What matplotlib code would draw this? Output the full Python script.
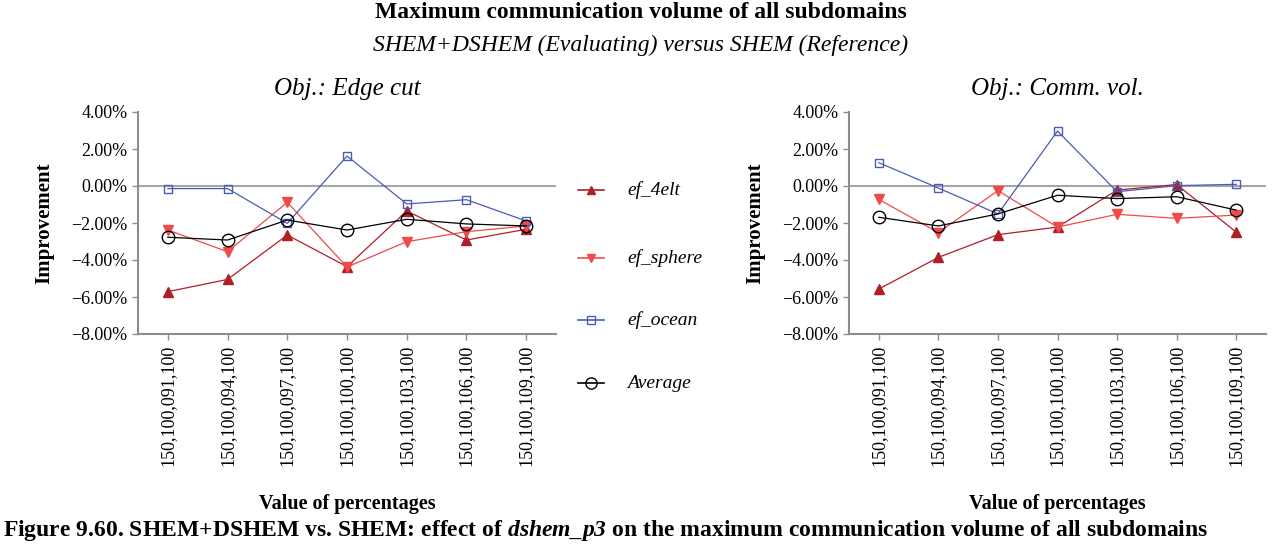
import matplotlib
matplotlib.use("Agg")
import matplotlib.pyplot as plt
from matplotlib.lines import Line2D

plt.rcParams['font.family'] = ['Liberation Serif', 'DejaVu Serif']
plt.rcParams['axes.unicode_minus'] = True
plt.rcParams['mathtext.fontset'] = 'custom'
plt.rcParams['mathtext.rm'] = 'Liberation Serif:italic:bold'
plt.rcParams['mathtext.it'] = 'Liberation Serif:italic:bold'

categories = ["150,100,091,100", "150,100,094,100", "150,100,097,100", "150,100,100,100",
              "150,100,103,100", "150,100,106,100", "150,100,109,100"]

# Obj.: Edge cut (percent)
edge_4elt = [-5.71, -5.05, -2.65, -4.36, -1.35, -2.92, -2.34]
edge_sphere = [-2.38, -3.55, -0.88, -4.38, -3.01, -2.47, -2.16]
edge_ocean = [-0.14, -0.14, -2.02, 1.62, -0.97, -0.74, -1.89]
edge_avg = [-2.77, -2.92, -1.84, -2.38, -1.80, -2.05, -2.16]

# Obj.: Comm. vol. (percent)
comm_4elt = [-5.57, -3.86, -2.63, -2.22, -0.22, 0.08, -2.49]
comm_sphere = [-0.72, -2.52, -0.25, -2.22, -1.53, -1.75, -1.57]
comm_ocean = [1.26, -0.11, -1.51, 2.97, -0.31, 0.02, 0.09]
comm_avg = [-1.69, -2.16, -1.51, -0.50, -0.68, -0.58, -1.30]

series_names = ["ef_4elt", "ef_sphere", "ef_ocean", "Average"]
yticks = [4, 2, 0, -2, -4, -6, -8]

styles = [
    dict(color="#b01e28", marker="^", markersize=7, markerfacecolor="#b01e28", markeredgecolor="#b01e28", lw=0.9),
    dict(color="#f04a4a", marker="v", markersize=7, markerfacecolor="#f04a4a", markeredgecolor="#f04a4a", lw=0.9),
    dict(color="#4a5cb4", marker="s", markersize=6, markerfacecolor="none", markeredgecolor="#4a5cb4", lw=0.9),
    dict(color="#000000", marker="o", markersize=9, markerfacecolor="none", markeredgecolor="#000000", lw=0.9),
]

W, H = 1282, 544
fig = plt.figure(figsize=(W / 100, H / 100), dpi=100)


def make_axes(x0, x1, title, data):
    ax = fig.add_axes([x0 / W, 1 - 334 / H, (x1 - x0) / W, (334 - 112) / H])
    xs = list(range(len(categories)))
    for vals, st in zip(data, styles):
        ax.plot(xs, vals, **st, zorder=3)
    ax.axhline(0, color="#a6a6a6", lw=1.5, zorder=1)
    ax.set_ylim(-8, 4)
    ax.set_xlim(-0.5, len(categories) - 0.5)
    ax.set_yticks(yticks)
    ax.set_yticklabels([f"{v:.2f}%".replace("-", "\u2212") for v in yticks], fontsize=13)
    ax.set_xticks(xs)
    ax.set_xticklabels(categories, rotation=90, fontsize=13)
    for s in ["top", "right"]:
        ax.spines[s].set_visible(False)
    for s in ["left", "bottom"]:
        ax.spines[s].set_color("#8c8c8c")
        ax.spines[s].set_linewidth(1.5)
    ax.tick_params(axis="both", colors="#8c8c8c", labelcolor="black", length=4, width=1)
    ax.tick_params(axis="x", pad=4)
    ax.set_ylabel("Improvement", fontsize=15, fontweight="bold", labelpad=12)
    ax.set_xlabel("Value of percentages", fontsize=14.5, fontweight="bold", labelpad=20)
    ax.set_title(title, fontsize=18, style="italic", pad=12)
    return ax


make_axes(138, 556, "Obj.: Edge cut", [edge_4elt, edge_sphere, edge_ocean, edge_avg])
make_axes(849, 1266, "Obj.: Comm. vol.", [comm_4elt, comm_sphere, comm_ocean, comm_avg])

fig.text(0.5, 1 - 12 / H, "Maximum communication volume of all subdomains", ha="center", va="center",
         fontsize=17, fontweight="bold")
fig.text(0.5, 1 - 45 / H, "SHEM+DSHEM (Evaluating) versus SHEM (Reference)", ha="center", va="center",
         fontsize=17, style="italic")

# legend
leg_y = [190, 258, 320, 383]
for name, st, yy in zip(series_names, styles, leg_y):
    ln = Line2D([578 / W, 604 / W], [1 - yy / H, 1 - yy / H], transform=fig.transFigure,
                color=st["color"], lw=1.2)
    fig.add_artist(ln)
    mk = Line2D([591 / W], [1 - yy / H], transform=fig.transFigure, linestyle="none",
                marker=st["marker"], markersize=st["markersize"] * 0.9,
                markerfacecolor=st["markerfacecolor"], markeredgecolor=st["markeredgecolor"])
    fig.add_artist(mk)
    fig.text(627 / W, 1 - yy / H, name, ha="left", va="center", fontsize=14, style="italic")

fig.text(3 / W, 1 - 543 / H,
         "Figure 9.60. SHEM+DSHEM vs. SHEM: effect of $\\mathit{dshem\\_p3}$ on the maximum communication volume of all subdomains",
         ha="left", va="bottom", fontsize=17, fontweight="bold")

fig.savefig("out.png", dpi=100)
